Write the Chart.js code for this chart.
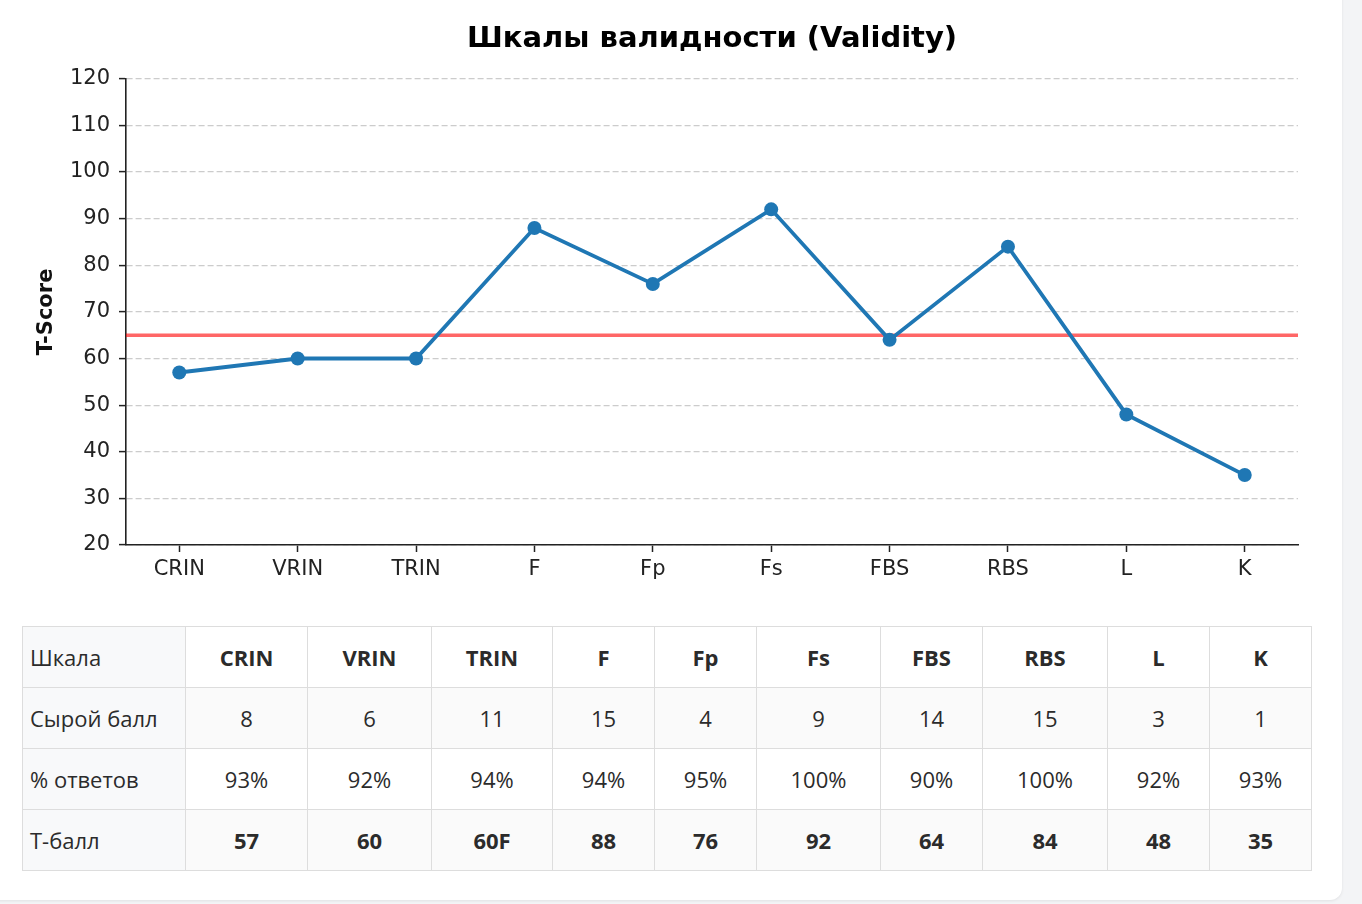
<!DOCTYPE html>
<html lang="ru">
<head>
  <meta charset="UTF-8">
  <title>Шкалы валидности (Validity)</title>
  <script src="https://cdn.jsdelivr.net/npm/chart.js"></script>
  <style>
    html, body {
      margin: 0;
      padding: 0;
    }
    body {
      background: #f3f4f6;
      width: 1362px;
      height: 904px;
      overflow: hidden;
      position: relative;
      font-family: "Open Sans", "Noto Sans", sans-serif;
    }
    .card {
      position: absolute;
      left: -20px;
      top: -20px;
      width: 1362px;
      height: 920px;
      background: #fff;
      border-radius: 12px;
      box-shadow: 0 1px 3px rgba(0,0,0,0.08);
    }
    .chart-box {
      position: absolute;
      left: 0;
      top: 0;
      width: 1424px;
      height: 600px;
    }
    table {
      position: absolute;
      left: 22px;
      top: 626px;
      width: 1290px;
      border-collapse: collapse;
      table-layout: fixed;
      color: #2b2b2b;
      font-size: 22px;
    }
    td {
      border: 1px solid #ddd;
      height: 60px;
      padding: 0 7px;
      text-align: center;
    }
    td.name {
      text-align: left;
      background: #f8f9fa;
    }
    tr.striped td {
      background: #fafafa;
    }
    tr.striped td.name {
      background: #f8f9fa;
    }
    .bold {
      font-weight: bold;
    }
  </style>
</head>
<body>
  <div class="card"></div>
  <div class="chart-box"><canvas id="validityChart"></canvas></div>
  <table id="scoreTable">
    <colgroup>
      <col style="width:163px"><col style="width:122px"><col style="width:124px">
      <col style="width:121px"><col style="width:102px"><col style="width:102px">
      <col style="width:124px"><col style="width:102px"><col style="width:125px">
      <col style="width:102px"><col style="width:102px">
    </colgroup>
    <tbody></tbody>
  </table>

  <script>
    const scales = ['CRIN', 'VRIN', 'TRIN', 'F', 'Fp', 'Fs', 'FBS', 'RBS', 'L', 'K'];
    const rawScores = [8, 6, 11, 15, 4, 9, 14, 15, 3, 1];
    const answeredPct = [93, 92, 94, 94, 95, 100, 90, 100, 92, 93];
    const tScores = [57, 60, 60, 88, 76, 92, 64, 84, 48, 35];
    const tScoreLabels = ['57', '60', '60F', '88', '76', '92', '64', '84', '48', '35'];
    const cutoff = 65;

    const xMin = -0.45;
    const xMax = scales.length - 1 + 0.45;
    const textColor = '#222';

    // table under the chart
    const tbody = document.querySelector('#scoreTable tbody');
    function addRow(name, cells, cls, boldCells) {
      const tr = document.createElement('tr');
      if (cls) tr.className = cls;
      let html = `<td class="name">${name}</td>`;
      cells.forEach(c => {
        html += `<td${boldCells ? ' class="bold"' : ''}>${c}</td>`;
      });
      tr.innerHTML = html;
      tbody.appendChild(tr);
    }
    addRow('Шкала', scales, '', true);
    addRow('Сырой балл', rawScores, 'striped', false);
    addRow('% ответов', answeredPct.map(v => v + '%'), '', false);
    addRow('T-балл', tScoreLabels, 'striped', true);

    const ctx = document.getElementById('validityChart').getContext('2d');

    new Chart(ctx, {
      type: 'line',
      data: {
        datasets: [{
          label: 'T-Score',
          data: tScores.map((v, i) => ({ x: i, y: v })),
          borderColor: '#1f77b4',
          backgroundColor: '#1f77b4',
          borderWidth: 3.8,
          pointRadius: 7,
          pointBorderWidth: 0,
          pointBackgroundColor: '#1f77b4',
          tension: 0
        }, {
          label: 'cutoff',
          data: [{ x: xMin, y: cutoff }, { x: xMax, y: cutoff }],
          borderColor: 'rgba(255,0,0,0.6)',
          borderWidth: 3.4,
          pointRadius: 0
        }]
      },
      options: {
        responsive: true,
        maintainAspectRatio: false,
        animation: false,
        layout: {
          padding: { left: 34, right: 34, top: 0, bottom: 0 }
        },
        plugins: {
          legend: { display: false },
          tooltip: { enabled: false },
          title: {
            display: true,
            text: 'Шкалы валидности (Validity)',
            color: '#000',
            font: { family: 'DejaVu Sans', size: 29, weight: 'bold' },
            padding: { top: 22, bottom: 22 }
          }
        },
        scales: {
          x: {
            type: 'linear',
            min: xMin,
            max: xMax,
            afterBuildTicks: axis => {
              axis.ticks = scales.map((_, i) => ({ value: i }));
            },
            afterFit: axis => { axis.height = 55; },
            ticks: {
              autoSkip: false,
              maxRotation: 0,
              padding: 5,
              color: textColor,
              font: { family: 'DejaVu Sans', size: 21 },
              callback: value => scales[value]
            },
            grid: {
              drawOnChartArea: false,
              drawTicks: true,
              tickLength: 7,
              tickWidth: 1.5,
              tickColor: textColor
            },
            border: { display: true, color: textColor, width: 1.6 }
          },
          y: {
            min: 20,
            max: 120,
            afterFit: axis => { axis.width = 92; },
            ticks: {
              stepSize: 10,
              padding: 9,
              color: textColor,
              font: { family: 'DejaVu Sans', size: 21 }
            },
            grid: {
              color: '#cccccc',
              lineWidth: 1.2,
              drawTicks: true,
              tickLength: 7,
              tickWidth: 1.5,
              tickColor: textColor,
              tickBorderDash: []
            },
            border: { display: true, color: textColor, width: 1.6, dash: [6, 3] },
            title: {
              display: true,
              text: 'T-Score',
              color: '#111',
              font: { family: 'DejaVu Sans', size: 21, weight: 'bold' },
              padding: { top: 0, bottom: 0 }
            }
          },
          // empty right-hand space so the title centres over the plot, as in the original
          yPad: {
            position: 'right',
            min: 20,
            max: 120,
            afterFit: axis => { axis.width = 92; },
            ticks: { display: false },
            grid: { display: false, drawTicks: false },
            border: { display: false }
          }
        }
      }
    });
  </script>
</body>
</html>
